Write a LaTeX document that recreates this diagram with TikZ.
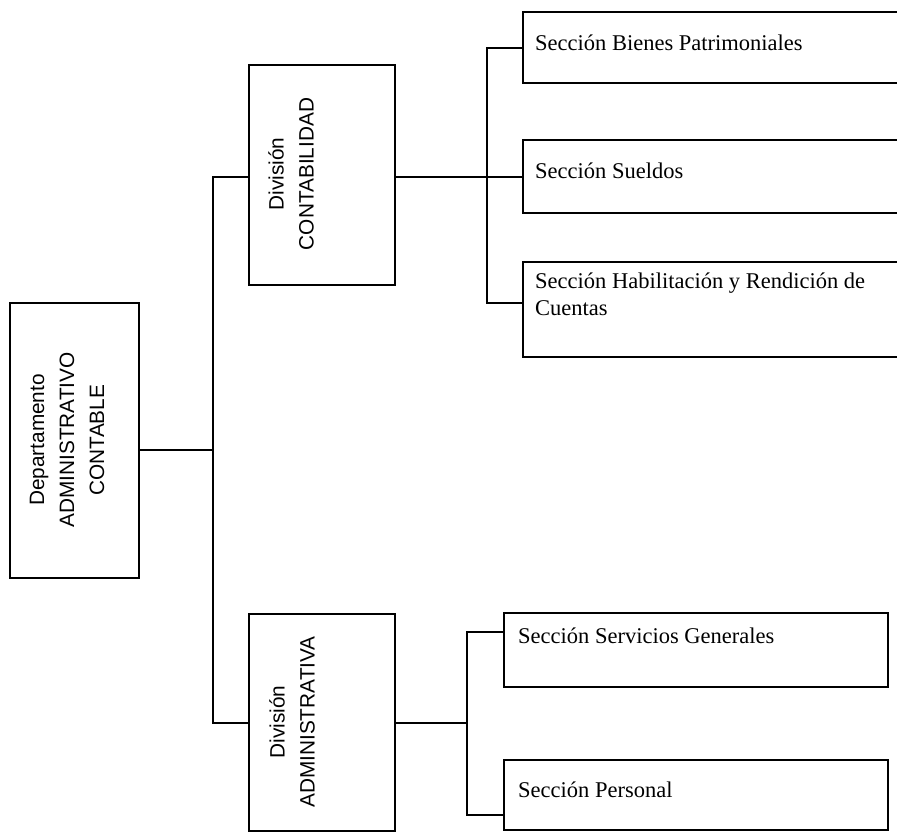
\documentclass[tikz,border=0pt]{standalone}
\usepackage{fontspec}
\setmainfont{Liberation Serif}
\newfontfamily\arialf{Liberation Sans}
\begin{document}
\begin{tikzpicture}[x=1pt,y=-1pt,
  box/.style={draw=black, line width=1.9pt, rectangle, anchor=north west, inner sep=0pt, outer sep=0pt},
  wire/.style={draw=black, line width=1.9pt},
  rottext/.style={rotate=90, align=center, inner sep=0pt, font=\arialf\fontsize{20.8}{30}\selectfont},
  sectext/.style={anchor=base west, inner sep=0pt, font=\fontsize{22.5}{27}\selectfont}]
\useasboundingbox (0,0) rectangle (897,833);
\clip (0,0) rectangle (897,833);
\fill[white] (0,0) rectangle (897,833);
% boxes
\node[box, minimum width=129pt, minimum height=275pt] (dept) at (10,303) {};
\node[box, minimum width=146pt, minimum height=220pt] (cont) at (249,65) {};
\node[box, minimum width=146pt, minimum height=217pt] (adm) at (249,614) {};
\node[box, minimum width=382pt, minimum height=71pt] (bienes) at (523,12) {};
\node[box, minimum width=382pt, minimum height=73pt] (sueldos) at (523,140) {};
\node[box, minimum width=382pt, minimum height=95pt] (habil) at (523,262) {};
\node[box, minimum width=384pt, minimum height=74pt] (serv) at (504,613) {};
\node[box, minimum width=384pt, minimum height=70pt] (pers) at (504,760) {};
% texts
\node[rottext] (deptT) at (67,440) {Departamento\\ADMINISTRATIVO\\CONTABLE};
\node[rottext] (contT) at (291,174) {División\\CONTABILIDAD};
\node[rottext] (admT) at (292,722) {División\\ADMINISTRATIVA};
\node[sectext] (bienesT) at (535,50) {Sección Bienes Patrimoniales};
\node[sectext] (sueldosT) at (535,178) {Sección Sueldos};
\node[sectext] (habilT1) at (535,288) {Sección Habilitación y Rendición de};
\node[sectext] (habilT2) at (535,315) {Cuentas};
\node[sectext] (servT) at (518,643) {Sección Servicios Generales};
\node[sectext] (persT) at (518,797) {Sección Personal};
% junction points
\coordinate (j1) at (213,450);
\coordinate (ct) at (213,177);
\coordinate (ab) at (213,723);
\coordinate (c2) at (487,177);
\coordinate (v1t) at (487,48);
\coordinate (v1b) at (487,303);
\coordinate (v2m) at (467,723);
\coordinate (v2t) at (467,632);
\coordinate (v2b) at (467,815);
% connectors
\draw[wire] (j1 -| dept.east) -- (j1);
\draw[wire] (ct -| cont.west) -- (ct) -- (ab) -- (ab -| adm.west);
\draw[wire] (c2 -| cont.east) -- (c2 -| sueldos.west);
\draw[wire] (v1t -| bienes.west) -- (v1t) -- (v1b) -- (v1b -| habil.west);
\draw[wire] (v2m -| adm.east) -- (v2m);
\draw[wire] (v2t -| serv.west) -- (v2t) -- (v2b) -- (v2b -| pers.west);
\end{tikzpicture}
\end{document}
